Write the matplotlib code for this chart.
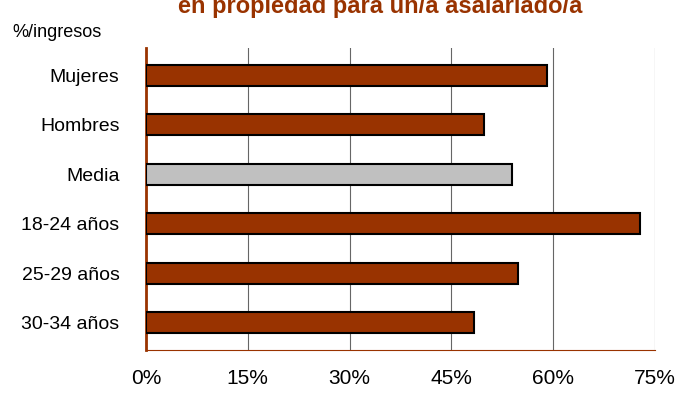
import matplotlib.pyplot as plt

categories = ["Mujeres", "Hombres", "Media", "18-24 años", "25-29 años", "30-34 años"]
values = [59.1, 49.8, 53.9, 72.8, 54.8, 48.3]
colors = ["#993300", "#993300", "#c0c0c0", "#993300", "#993300", "#993300"]
ticks = [0, 15, 30, 45, 60, 75]

plt.rcParams['font.family'] = ['Liberation Sans', 'DejaVu Sans']
fig = plt.figure(figsize=(6.92, 4.0), dpi=100)
ax = fig.add_axes([146/692, 1-350/400, 509/692, 302/400])

y = list(range(len(categories)))[::-1]
ax.barh(y, values, height=0.42, color=colors, edgecolor="black", linewidth=1.5, zorder=3)
ax.set_xlim(0, 75)
ax.set_ylim(-0.55, 5.55)
ax.set_yticks(y)
ax.set_yticklabels(categories, fontsize=14)
ax.set_xticks(ticks)
ax.set_xticklabels([f"{t}%" for t in ticks], fontsize=15)
ax.xaxis.grid(True, color="#666666", linewidth=0.8, zorder=0)
for s in ["top", "right"]:
    ax.spines[s].set_visible(False)
ax.spines["left"].set_color("#993300")
ax.spines["left"].set_linewidth(2)
ax.spines["bottom"].set_color("#993300")
ax.tick_params(axis="y", length=0, pad=19)
ax.tick_params(axis="x", length=0, pad=14)

fig.text(380/692, 1-13/400, "en propiedad para un/a asalariado/a", ha="center", va="baseline",
         fontsize=17, fontweight="bold", color="#993300")
fig.text(12/692, 1-37/400, "%/ingresos", fontsize=13)
fig.savefig("out.png")
